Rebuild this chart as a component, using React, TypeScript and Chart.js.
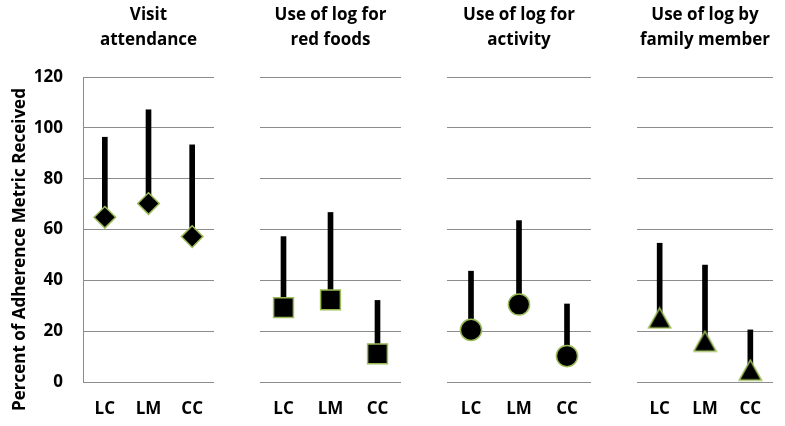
import React, { useEffect, useRef } from 'react';
import { Chart, registerables } from 'chart.js';

Chart.register(...registerables);

// ---------- data ----------
const categories = ['LC', 'LM', 'CC'];
const yAxisTitle = 'Percent of Adherence Metric Received';
const yMin = 0;
const yMax = 120;
const yStep = 20;

const visitTitle = ['Visit', 'attendance'];
const visitMean = [64.8, 70.2, 57.2];
const visitUpper = [96.3, 107.1, 93.3];

const redFoodsTitle = ['Use of log for', 'red foods'];
const redFoodsMean = [29.3, 32.3, 11.1];
const redFoodsUpper = [57.2, 66.7, 32.1];

const activityTitle = ['Use of log for', 'activity'];
const activityMean = [20.5, 30.5, 10.2];
const activityUpper = [43.6, 63.5, 30.7];

const familyTitle = ['Use of log by', 'family member'];
const familyMean = [25.2, 16.1, 4.7];
const familyUpper = [54.6, 46.0, 20.5];

// ---------- styles ----------
const FONT = '"Open Sans", Lato, "DejaVu Sans", sans-serif';
const GRID = '#8c8c8c';
const EDGE = '#9bbb59';

function makeTriangle(): HTMLCanvasElement {
  const c = document.createElement('canvas');
  c.width = 25;
  c.height = 23;
  const ctx = c.getContext('2d')!;
  ctx.beginPath();
  ctx.moveTo(12.5, 1.6);
  ctx.lineTo(23.6, 21.6);
  ctx.lineTo(1.4, 21.6);
  ctx.closePath();
  ctx.fillStyle = '#000';
  ctx.fill();
  ctx.lineWidth = 1.5;
  ctx.strokeStyle = EDGE;
  ctx.stroke();
  return c;
}

const yTitlePlugin = {
  id: 'yTitleCustom',
  afterDraw(chart: any) {
    const { ctx, chartArea } = chart;
    ctx.save();
    ctx.translate(25, (chartArea.top + chartArea.bottom) / 2 + 20);
    ctx.rotate(-Math.PI / 2);
    ctx.font = `bold 17px ${FONT}`;
    ctx.fillStyle = '#000';
    ctx.textAlign = 'center';
    ctx.textBaseline = 'alphabetic';
    ctx.fillText(yAxisTitle, 0, 0);
    ctx.restore();
  },
};

type PanelProps = {
  title: string[];
  mean: number[];
  upper: number[];
  marker: string;
  showAxis: boolean;
  left: number;
  width: number;
  padL: number;
  padR: number;
};

function Panel({ title, mean, upper, marker, showAxis, left, width, padL, padR }: PanelProps) {
  const ref = useRef<HTMLCanvasElement>(null);
  useEffect(() => {
    if (!ref.current) return;
    let pointStyle: any = marker;
    let radius = 10.5;
    if (marker === 'rect') radius = 14;
    if (marker === 'rectRot') radius = 10.8;
    if (marker === 'circle') radius = 10.6;
    if (marker === 'triangle') pointStyle = makeTriangle();
    const tickFont = { family: FONT, size: 17, weight: 'bold' as const };
    const chart = new Chart(ref.current, {
      type: 'bar',
      data: {
        labels: categories,
        datasets: [
          {
            type: 'line',
            data: mean,
            showLine: false,
            pointStyle,
            pointRadius: radius,
            pointHoverRadius: radius,
            pointBackgroundColor: '#000',
            pointBorderColor: EDGE,
            pointBorderWidth: 1.5,
            order: 1,
            clip: false,
          } as any,
          {
            type: 'bar',
            data: mean.map((m, i) => [m, upper[i]]),
            backgroundColor: '#000',
            barThickness: 5,
            borderWidth: 0,
            order: 2,
          } as any,
        ],
      },
      options: {
        responsive: false,
        animation: false,
        layout: { padding: { top: 2, left: padL, right: padR, bottom: 0 } },
        plugins: {
          legend: { display: false },
          tooltip: { enabled: false },
          title: {
            display: true,
            text: title,
            fullSize: false,
            color: '#000',
            font: { family: FONT, size: 17, weight: 'bold', lineHeight: 1.5 },
            padding: { top: 0, bottom: 24 },
          },
        },
        scales: {
          x: {
            grid: { display: false, drawTicks: false },
            border: { display: false },
            ticks: { color: '#000', font: tickFont, padding: 17 },
            afterFit: (s: any) => {
              s.height = 44;
            },
          },
          y: {
            min: yMin,
            max: yMax,
            ticks: { display: showAxis, stepSize: yStep, color: '#000', font: tickFont, padding: 20 },
            grid: { color: GRID, lineWidth: 1, drawTicks: false },
            border: { display: showAxis, color: GRID, width: 1 },
            afterFit: (s: any) => {
              s.width = showAxis ? 83 : 0;
            },
          },
        },
      } as any,
      plugins: showAxis ? [yTitlePlugin] : [],
    });
    return () => chart.destroy();
  }, []);
  return (
    <div style={{ position: 'absolute', left, top: 0, width, height: 426 }}>
      <canvas ref={ref} width={width} height={426} style={{ display: 'block' }} />
    </div>
  );
}

export default function App() {
  return (
    <div style={{ position: 'absolute', left: 0, top: 0, width: 785, height: 426, background: '#fff', overflow: 'hidden' }}>
      <Panel title={visitTitle} mean={visitMean} upper={visitUpper} marker="rectRot" showAxis={true} left={0} width={230} padL={0} padR={16} />
      <Panel title={redFoodsTitle} mean={redFoodsMean} upper={redFoodsUpper} marker="rect" showAxis={false} left={240} width={180} padL={20} padR={19} />
      <Panel title={activityTitle} mean={activityMean} upper={activityUpper} marker="circle" showAxis={false} left={430} width={180} padL={17} padR={19} />
      <Panel title={familyTitle} mean={familyMean} upper={familyUpper} marker="triangle" showAxis={false} left={620} width={165} padL={17} padR={6} />
    </div>
  );
}
